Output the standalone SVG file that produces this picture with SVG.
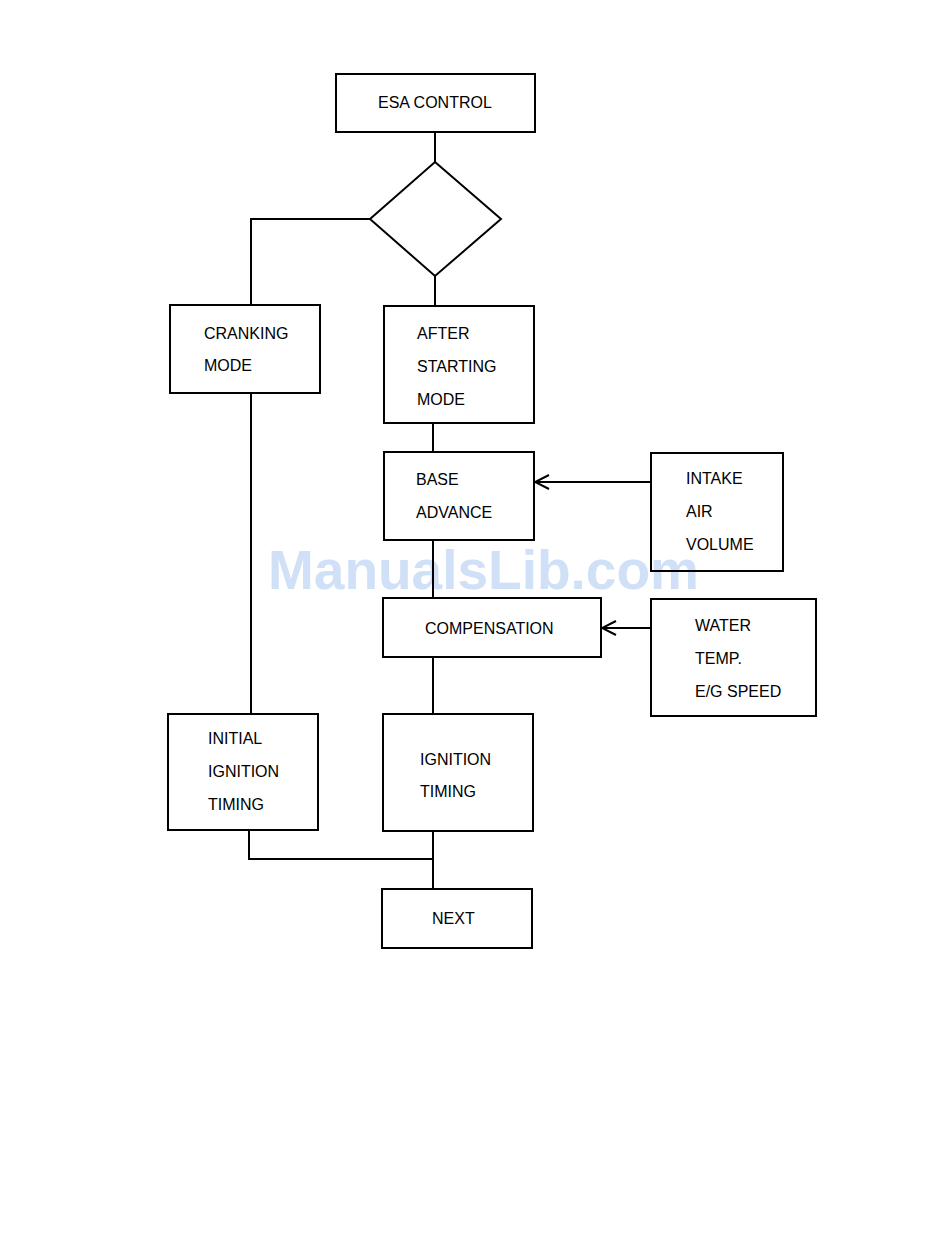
<svg xmlns="http://www.w3.org/2000/svg" width="950" height="1248" viewBox="0 0 950 1248">
<style>
.box{fill:none;stroke:#000;stroke-width:2}
.ln{fill:none;stroke:#000;stroke-width:2}
text{font-family:"Liberation Sans",Arial,sans-serif;font-size:16px;fill:#000}
.wm{font-family:"Liberation Sans",Arial,sans-serif;font-size:55px;font-weight:bold;fill:#cfe0f7}
</style>
<defs>
<marker id="arr" viewBox="0 0 20 20" refX="18" refY="10" markerWidth="20" markerHeight="20" markerUnits="userSpaceOnUse" orient="auto">
<path d="M4,3 L18,10 L4,17" fill="none" stroke="#000" stroke-width="2"/>
</marker>
</defs>
<rect width="950" height="1248" fill="#fff"/>
<text class="wm" x="268" y="589">ManualsLib.com</text>
<g id="connectors">
<line class="ln" x1="435" y1="132" x2="435" y2="162"/>
<polyline class="ln" points="370,219 251,219 251,305"/>
<line class="ln" x1="435" y1="276" x2="435" y2="306"/>
<line class="ln" x1="251" y1="393" x2="251" y2="714"/>
<line class="ln" x1="433" y1="423" x2="433" y2="452"/>
<line class="ln" x1="651" y1="482" x2="535" y2="482" marker-end="url(#arr)"/>
<line class="ln" x1="433" y1="540" x2="433" y2="598"/>
<line class="ln" x1="651" y1="628" x2="602" y2="628" marker-end="url(#arr)"/>
<line class="ln" x1="433" y1="657" x2="433" y2="714"/>
<polyline class="ln" points="249,830 249,859 433,859"/>
<line class="ln" x1="433" y1="831" x2="433" y2="889"/>
</g>
<g id="esa-control">
<rect class="box" x="336" y="74" width="199" height="58"/>
<text x="378" y="108">ESA CONTROL</text>
</g>
<g id="decision">
<polygon class="box" points="435,162 501,219 435,276 370,219"/>
</g>
<g id="cranking-mode">
<rect class="box" x="170" y="305" width="150" height="88"/>
<text x="204" y="339">CRANKING</text>
<text x="204" y="371">MODE</text>
</g>
<g id="after-starting-mode">
<rect class="box" x="384" y="306" width="150" height="117"/>
<text x="417" y="339">AFTER</text>
<text x="417" y="372">STARTING</text>
<text x="417" y="405">MODE</text>
</g>
<g id="base-advance">
<rect class="box" x="384" y="452" width="150" height="88"/>
<text x="416" y="485">BASE</text>
<text x="416" y="518">ADVANCE</text>
</g>
<g id="intake-air-volume">
<rect class="box" x="651" y="453" width="132" height="118"/>
<text x="686" y="484">INTAKE</text>
<text x="686" y="517">AIR</text>
<text x="686" y="550">VOLUME</text>
</g>
<g id="compensation">
<rect class="box" x="383" y="598" width="218" height="59"/>
<text x="425" y="634">COMPENSATION</text>
</g>
<g id="water-temp-eg-speed">
<rect class="box" x="651" y="599" width="165" height="117"/>
<text x="695" y="631">WATER</text>
<text x="695" y="664">TEMP.</text>
<text x="695" y="697">E/G SPEED</text>
</g>
<g id="initial-ignition-timing">
<rect class="box" x="168" y="714" width="150" height="116"/>
<text x="208" y="744">INITIAL</text>
<text x="208" y="777">IGNITION</text>
<text x="208" y="810">TIMING</text>
</g>
<g id="ignition-timing">
<rect class="box" x="383" y="714" width="150" height="117"/>
<text x="420" y="765">IGNITION</text>
<text x="420" y="797">TIMING</text>
</g>
<g id="next">
<rect class="box" x="382" y="889" width="150" height="59"/>
<text x="432" y="924">NEXT</text>
</g>
</svg>
